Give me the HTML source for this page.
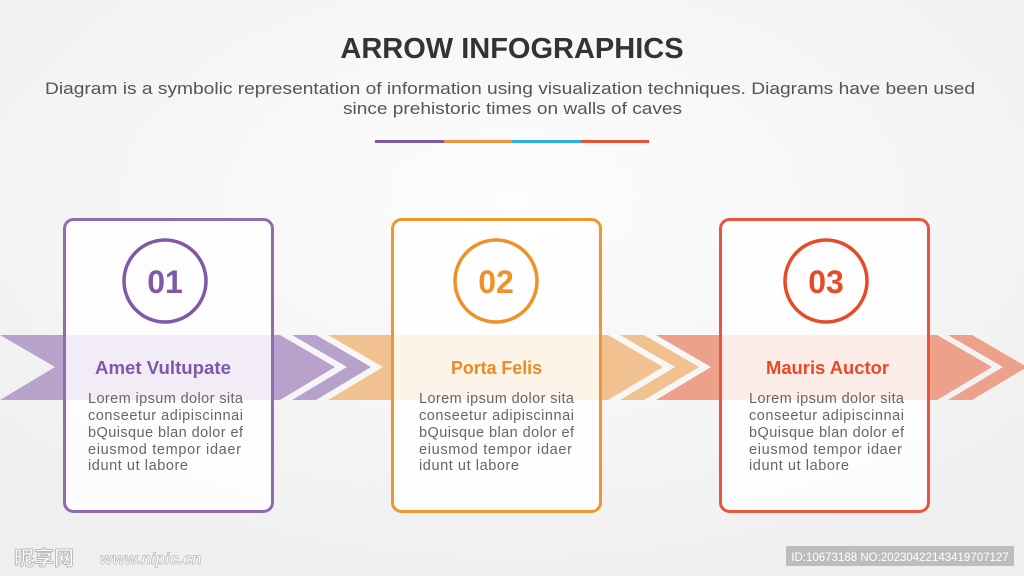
<!DOCTYPE html>
<html><head><meta charset="utf-8"><style>
html,body{margin:0;padding:0;width:1024px;height:576px;overflow:hidden;background:#f4f4f4;}
svg{display:block}
</style></head><body>
<svg width="1024" height="576" viewBox="0 0 1024 576" xmlns="http://www.w3.org/2000/svg" font-family="Liberation Sans, sans-serif">
<defs>
<radialGradient id="bg" cx="50%" cy="35%" r="70%"><stop offset="0" stop-color="#fdfdfd"/><stop offset="1" stop-color="#efefef"/></radialGradient>
</defs>
<rect width="1024" height="576" fill="url(#bg)"/>
<text x="512" y="58" text-anchor="middle" font-size="29" font-weight="bold" fill="#333">ARROW INFOGRAPHICS</text>
<text x="45" y="94" font-size="17" fill="#555" textLength="930" lengthAdjust="spacingAndGlyphs">Diagram is a symbolic representation of information using visualization techniques. Diagrams have been used</text>
<text x="343" y="114" font-size="17" fill="#555" textLength="339" lengthAdjust="spacingAndGlyphs">since prehistoric times on walls of caves</text>
<rect x="375" y="140" width="69" height="3" fill="#7e57a6"/>
<rect x="444" y="140" width="68" height="3" fill="#ef9535"/>
<rect x="512" y="140" width="69" height="3" fill="#2bb0e4"/>
<rect x="581" y="140" width="68" height="3" fill="#e8502f"/>

<g id="arrows">
<polygon points="0,335 280,335 335,367 280,400 0,400 55,367" fill="#b8a2cc"/>
<polygon points="292,335 316,335 371,367 316,400 292,400 347,367" fill="#b8a2cc"/>
<polygon points="328,335 608,335 663,367 608,400 328,400 383,367" fill="#f1c28f"/>
<polygon points="620,335 644,335 699,367 644,400 620,400 675,367" fill="#f1c28f"/>
<polygon points="656,335 937,335 992,367 937,400 656,400 711,367" fill="#eda08a"/>
<polygon points="948,335 972,335 1027,367 972,400 948,400 1003,367" fill="#eda08a"/>
</g>

<g>
<rect x="64.5" y="219.5" width="208" height="292" rx="9" fill="#fff" fill-opacity="0.8" stroke="#8f6cb2" stroke-width="3"/>
<circle cx="165" cy="281" r="41" fill="none" stroke="#7f58a8" stroke-width="3.5"/>
<text x="165" y="293" text-anchor="middle" font-size="32" font-weight="bold" fill="#7f58a8">01</text>
<text x="95" y="374" font-size="18.5" font-weight="bold" fill="#7f58a8" textLength="136" lengthAdjust="spacingAndGlyphs">Amet Vultupate</text>
<g font-size="14.5" fill="#666"><text x="88" y="403" textLength="155">Lorem ipsum dolor sita</text><text x="88" y="420" textLength="155">conseetur adipiscinnai</text><text x="88" y="437" textLength="155">bQuisque blan dolor ef</text><text x="88" y="454" textLength="153">eiusmod tempor idaer</text><text x="88" y="470" textLength="100">idunt ut labore</text></g>
</g>
<g>
<rect x="392.5" y="219.5" width="208" height="292" rx="9" fill="#fff" fill-opacity="0.8" stroke="#f0962e" stroke-width="3"/>
<circle cx="496" cy="281" r="41" fill="none" stroke="#ef9028" stroke-width="3.5"/>
<text x="496" y="293" text-anchor="middle" font-size="32" font-weight="bold" fill="#ef9028">02</text>
<text x="451" y="374" font-size="18.5" font-weight="bold" fill="#ef8a1e" textLength="91" lengthAdjust="spacingAndGlyphs">Porta Felis</text>
<g font-size="14.5" fill="#666"><text x="419" y="403" textLength="155">Lorem ipsum dolor sita</text><text x="419" y="420" textLength="155">conseetur adipiscinnai</text><text x="419" y="437" textLength="155">bQuisque blan dolor ef</text><text x="419" y="454" textLength="153">eiusmod tempor idaer</text><text x="419" y="470" textLength="100">idunt ut labore</text></g>
</g>
<g>
<rect x="720.5" y="219.5" width="208" height="292" rx="9" fill="#fff" fill-opacity="0.8" stroke="#e8553a" stroke-width="3"/>
<circle cx="826" cy="281" r="41" fill="none" stroke="#e64a26" stroke-width="3.5"/>
<text x="826" y="293" text-anchor="middle" font-size="32" font-weight="bold" fill="#e64a26">03</text>
<text x="766" y="374" font-size="18.5" font-weight="bold" fill="#e64a26" textLength="123" lengthAdjust="spacingAndGlyphs">Mauris Auctor</text>
<g font-size="14.5" fill="#666"><text x="749" y="403" textLength="155">Lorem ipsum dolor sita</text><text x="749" y="420" textLength="155">conseetur adipiscinnai</text><text x="749" y="437" textLength="155">bQuisque blan dolor ef</text><text x="749" y="454" textLength="153">eiusmod tempor idaer</text><text x="749" y="470" textLength="100">idunt ut labore</text></g>
</g>

<text x="14" y="565" font-size="20" font-weight="bold" fill="#fff" stroke="#bbb" stroke-width="1" font-family="Noto Sans CJK SC, sans-serif">昵享网</text>
<text x="100" y="564" font-size="16" font-style="italic" font-weight="bold" fill="#fff" stroke="#bbb" stroke-width="0.8">www.nipic.cn</text>
<rect x="786" y="546" width="228" height="20" fill="#bdbdbd"/>
<text x="900" y="561" text-anchor="middle" font-size="11.5" fill="#fff">ID:10673188 NO:20230422143419707127</text>
</svg>
</body></html>
